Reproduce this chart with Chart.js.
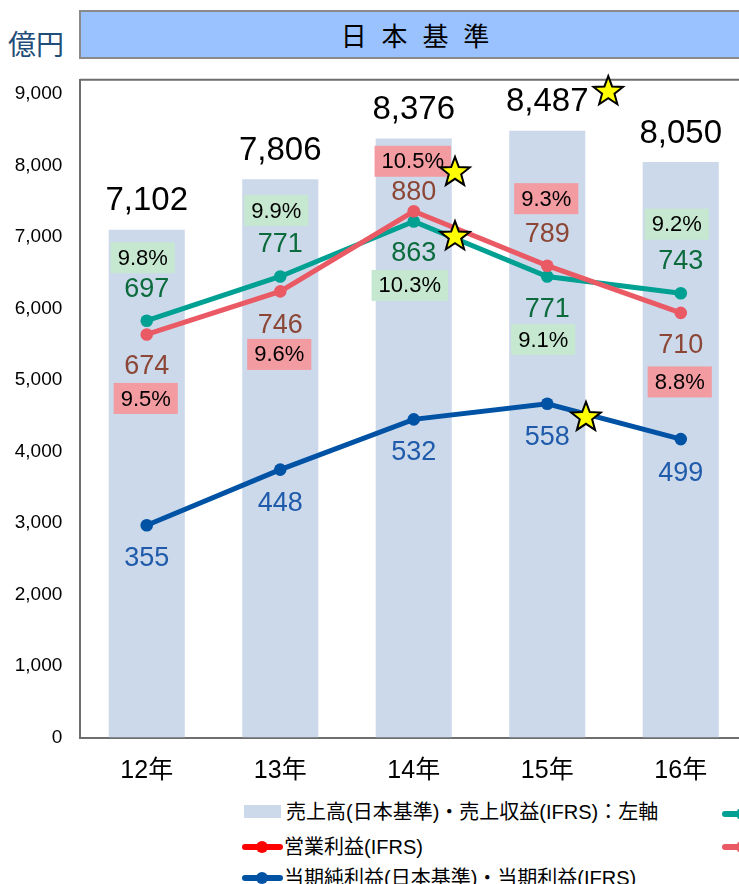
<!DOCTYPE html>
<html lang="ja">
<head>
<meta charset="utf-8">
<title>日本基準</title>
<script src="https://cdn.jsdelivr.net/npm/chart.js@4.4.1/dist/chart.umd.min.js"></script>
<style>
  body {
    margin: 0;
    width: 739px;
    height: 884px;
    overflow: hidden;
    position: relative;
    background: #fff;
    font-family: "Liberation Sans", Arial, "Noto Sans CJK JP", sans-serif;
  }
  #chart { position: absolute; left: 0; top: 0; }
  #unit {
    position: absolute; left: 8px; top: 29px;
    font: 28px/1 "Noto Sans CJK JP", sans-serif;
    color: #1f4e79;
  }
  #title {
    position: absolute; left: 79px; top: 10px;
    width: 668px; height: 45px;
    background: #99c2ff;
    border: 2px solid #8a8a8a;
    font: 26px/45px "Noto Sans CJK JP", sans-serif;
    word-spacing: 9px;
    text-align: center;
    color: #000;
  }
  .lg { position: absolute; white-space: nowrap; font: 20px/1 "Liberation Sans", "Noto Sans CJK JP", sans-serif; color: #000; }
  .lg .sw { position: absolute; }
</style>
</head>
<body>
<div id="unit">億円</div>
<div id="title">日 本 基 準</div>
<canvas id="chart" width="760" height="800"></canvas>
<div id="legend"></div>
<script>
// ---------------------------------------------------------------------------
// Data
// ---------------------------------------------------------------------------
const categories = ['12年', '13年', '14年', '15年', '16年'];
const salesValues = [7102, 7806, 8376, 8487, 8050];      // 売上高・売上収益 (left axis)
const opJgaapValues = [697, 771, 863, 771, 743];         // teal line
const opIfrsValues = [674, 746, 880, 789, 710];          // red line
const netValues = [355, 448, 532, 558, 499];             // blue line
const opJgaapMargins = ['9.8%', '9.9%', '10.3%', '9.1%', '9.2%'];
const opIfrsMargins = ['9.5%', '9.6%', '10.5%', '9.3%', '8.8%'];
const leftTicks = [0, 1000, 2000, 3000, 4000, 5000, 6000, 7000, 8000, 9000];

const seriesNames = [
  '売上高(日本基準)・売上収益(IFRS)：左軸',
  '営業利益(日本基準)',
  '営業利益(IFRS)',
  '当期純利益(日本基準)・当期利益(IFRS)'
];

// star decorations, in data units (category index, left-axis value)
const starX = [3.457, 2.309, 2.309, 3.29];
const starY = [9032, 7905, 7004, 4478];

// ---------------------------------------------------------------------------
// Styling
// ---------------------------------------------------------------------------
const COLORS = {
  bar: '#ccd9eb',
  teal: '#00a092',
  red: '#ea5a64',
  blue: '#0052a5',
  legendRed: '#ff0000',
  tealText: '#0b6b3c',
  redText: '#8c4636',
  blueText: '#1f5baa',
  greenBox: '#c6e8d0',
  pinkBox: '#f29ba1',
  axis: '#6e6e6e'
};

// label placement (pixels from the point; negative = above)
const labelSets = [
  {
    dataset: 1, values: opJgaapValues, color: COLORS.tealText,
    valueOffsets: [-31, -32, 32, 33, -32],
    margins: opJgaapMargins, boxColor: COLORS.greenBox,
    boxOffsets: [-63, -66, 64, 63, -69], boxShift: -4
  },
  {
    dataset: 2, values: opIfrsValues, color: COLORS.redText,
    valueOffsets: [32, 34, -19, -31, 33],
    margins: opIfrsMargins, boxColor: COLORS.pinkBox,
    boxOffsets: [64, 63, -50, -67, 69], boxShift: -1
  },
  {
    dataset: 3, values: netValues, color: COLORS.blueText,
    valueOffsets: [33, 34, 33, 34, 34]
  }
];

function drawStar(ctx, cx, cy, rOuter, rInner) {
  ctx.beginPath();
  for (let k = 0; k < 10; k++) {
    const r = k % 2 ? rInner : rOuter;
    const a = -Math.PI / 2 + k * Math.PI / 5;
    ctx.lineTo(cx + r * Math.cos(a), cy + r * Math.sin(a));
  }
  ctx.closePath();
  ctx.fillStyle = '#ffff00';
  ctx.fill();
  ctx.lineWidth = 2;
  ctx.strokeStyle = '#000';
  ctx.stroke();
}

// top edge of the plot frame
const framePlugin = {
  id: 'frame',
  beforeDatasetsDraw(chart) {
    const { ctx, chartArea } = chart;
    ctx.save();
    ctx.strokeStyle = COLORS.axis;
    ctx.lineWidth = 2;
    ctx.beginPath();
    ctx.moveTo(chartArea.left, chartArea.top);
    ctx.lineTo(chartArea.right, chartArea.top);
    ctx.stroke();
    ctx.restore();
  }
};

const labelPlugin = {
  id: 'valueLabels',
  afterDatasetsDraw(chart) {
    const ctx = chart.ctx;
    ctx.save();
    ctx.textAlign = 'center';
    ctx.textBaseline = 'middle';

    // bar totals
    ctx.font = '33px "Liberation Sans", Arial';
    ctx.fillStyle = '#000';
    chart.getDatasetMeta(0).data.forEach((bar, i) => {
      ctx.fillText(salesValues[i].toLocaleString('en-US'), bar.x, bar.y - 28.5);
    });

    labelSets.forEach(set => {
      const meta = chart.getDatasetMeta(set.dataset);
      meta.data.forEach((pt, i) => {
        if (set.margins) {
          ctx.font = '22px "Liberation Sans", Arial';
          const text = set.margins[i];
          const w = ctx.measureText(text).width + 14;
          const h = 31;
          const cx = pt.x + set.boxShift;
          const cy = pt.y + set.boxOffsets[i];
          ctx.fillStyle = set.boxColor;
          ctx.fillRect(cx - w / 2, cy - h / 2, w, h);
          ctx.fillStyle = '#000';
          ctx.fillText(text, cx, cy + 1);
        }
        ctx.font = '27px "Liberation Sans", Arial';
        ctx.fillStyle = set.color;
        ctx.fillText(String(set.values[i]), pt.x, pt.y + set.valueOffsets[i]);
      });
    });

    // stars
    const xs = chart.scales.x, ys = chart.scales.y;
    starX.forEach((sx, i) => {
      drawStar(ctx, xs.getPixelForValue(sx), ys.getPixelForValue(starY[i]), 15.5, 6.5);
    });
    ctx.restore();
  }
};

function lineDataset(label, data, color, order) {
  return {
    type: 'line',
    label,
    data,
    yAxisID: 'y1',
    borderColor: color,
    backgroundColor: color,
    borderWidth: 5,
    pointRadius: 6.3,
    pointBorderWidth: 0,
    pointBackgroundColor: color,
    tension: 0,
    order
  };
}

Chart.defaults.font.family = '"Liberation Sans", Arial, "Noto Sans CJK JP", sans-serif';
Chart.defaults.color = '#000';

new Chart(document.getElementById('chart'), {
  type: 'bar',
  data: {
    labels: categories,
    datasets: [
      {
        type: 'bar',
        label: seriesNames[0],
        data: salesValues,
        backgroundColor: COLORS.bar,
        barPercentage: 0.57,
        categoryPercentage: 1.0,
        yAxisID: 'y',
        order: 4
      },
      lineDataset(seriesNames[1], opJgaapValues, COLORS.teal, 2),
      lineDataset(seriesNames[2], opIfrsValues, COLORS.red, 1),
      lineDataset(seriesNames[3], netValues, COLORS.blue, 3)
    ]
  },
  options: {
    responsive: false,
    animation: false,
    layout: { padding: { left: 0, right: 12.5, top: 79.7, bottom: 0 } },
    plugins: {
      legend: { display: false },
      tooltip: { enabled: false }
    },
    scales: {
      x: {
        grid: { display: false, drawTicks: false },
        border: { display: true, color: COLORS.axis, width: 2 },
        ticks: { font: { size: 25 }, padding: 19, color: '#000' },
        afterFit: s => { s.height = 62.5; }
      },
      y: {
        min: 0,
        max: 9200,
        grid: { display: false, drawTicks: false },
        border: { display: true, color: COLORS.axis, width: 2 },
        ticks: {
          font: { size: 19 },
          padding: 17.7,
          color: '#000',
          callback: v => v.toLocaleString('en-US')
        },
        afterBuildTicks: s => { s.ticks = leftTicks.map(v => ({ value: v })); },
        afterFit: s => { s.width = 80; }
      },
      y1: { display: false, min: 0, max: 1100 }
    }
  },
  plugins: [framePlugin, labelPlugin]
});

// ---------------------------------------------------------------------------
// Legend (HTML, two columns; second column runs off the right edge)
// ---------------------------------------------------------------------------
const legendItems = [
  { name: seriesNames[0], kind: 'box', color: COLORS.bar, left: 244, top: 812 },
  { name: seriesNames[1], kind: 'line', color: COLORS.teal, left: 722, top: 814 },
  { name: seriesNames[2], kind: 'line', color: COLORS.legendRed, left: 242, top: 847 },
  { name: seriesNames[2], kind: 'line', color: COLORS.red, left: 722, top: 847 },
  { name: seriesNames[3], kind: 'line', color: COLORS.blue, left: 242, top: 878 }
];
const legendEl = document.getElementById('legend');
legendItems.forEach(item => {
  const row = document.createElement('div');
  row.className = 'lg';
  row.style.left = item.left + 'px';
  row.style.top = (item.top - 10) + 'px';
  row.style.paddingLeft = '42px';
  row.style.height = '20px';
  row.style.lineHeight = '20px';
  if (item.kind === 'box') {
    row.innerHTML = `<span class="sw" style="left:0;top:-3px;width:37px;height:13px;margin-top:6px;background:${item.color}"></span>`;
  } else {
    row.innerHTML =
      `<span class="sw" style="left:0;top:7px;width:41px;height:6px;border-radius:3px;background:${item.color}"></span>` +
      `<span class="sw" style="left:14px;top:4px;width:12px;height:12px;border-radius:6px;background:${item.color}"></span>`;
  }
  row.appendChild(document.createTextNode(item.name));
  legendEl.appendChild(row);
});
</script>
</body>
</html>
